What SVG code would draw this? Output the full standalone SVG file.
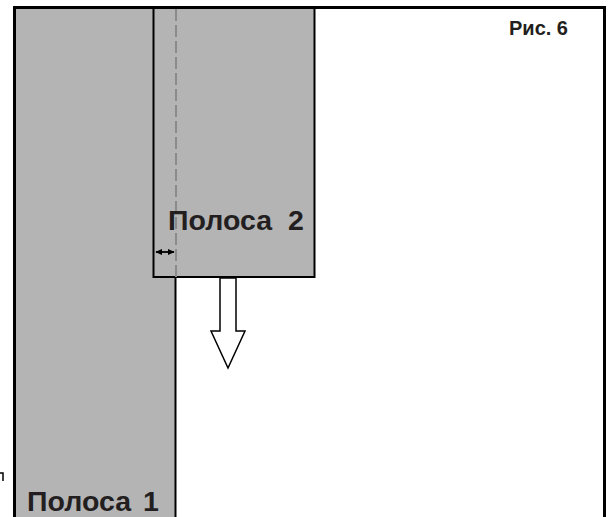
<svg xmlns="http://www.w3.org/2000/svg" width="610" height="517" viewBox="0 0 610 517">
<style>
.strip{fill:#b4b4b5}
.lbl{font-family:"Liberation Sans",Arial,sans-serif;font-weight:bold;fill:#231f20}
.edge{stroke:#000;fill:none}
</style>
<defs>
<marker id="ah" viewBox="0 0 10 10" refX="9" refY="5" markerWidth="7" markerHeight="7" orient="auto-start-reverse" markerUnits="userSpaceOnUse">
<path d="M0,0.5 L10,5 L0,9.5 Z" fill="#000"/>
</marker>
</defs>
<rect width="610" height="517" fill="#fff"/>
<g id="strip1">
<rect class="strip" x="16" y="8" width="160" height="509"/>
<line class="edge" x1="175.5" y1="277" x2="175.5" y2="517" stroke-width="2"/>
<text class="lbl" x="27" y="511" font-size="28.5">Полоса<tspan x="143">1</tspan></text>
</g>
<g id="strip2">
<rect class="strip" x="153.5" y="8" width="161" height="269" stroke="#000" stroke-width="2"/>
<line x1="176" y1="9" x2="176" y2="277" stroke="#8a8a8a" stroke-width="2" stroke-dasharray="12 4"/>
<text class="lbl" x="168" y="230" font-size="28.5">Полоса<tspan x="288">2</tspan></text>
</g>
<g id="frame">
<polyline class="edge" points="14.5,517 14.5,7.5 604.5,7.5 604.5,517" stroke-width="3"/>
<text class="lbl" x="509" y="35" font-size="20">Рис. 6</text>
<polyline class="edge" points="0,473 3,473 3,481" stroke-width="1.5"/>
</g>
<g id="connectors">
<line x1="156" y1="252" x2="174" y2="252" stroke="#000" stroke-width="1.8" marker-start="url(#ah)" marker-end="url(#ah)"/>
<polygon points="220,278 220,331 211,331 228,368 245,331 236,331 236,278" fill="#fff" stroke="#000" stroke-width="1.5"/>
</g>
</svg>
